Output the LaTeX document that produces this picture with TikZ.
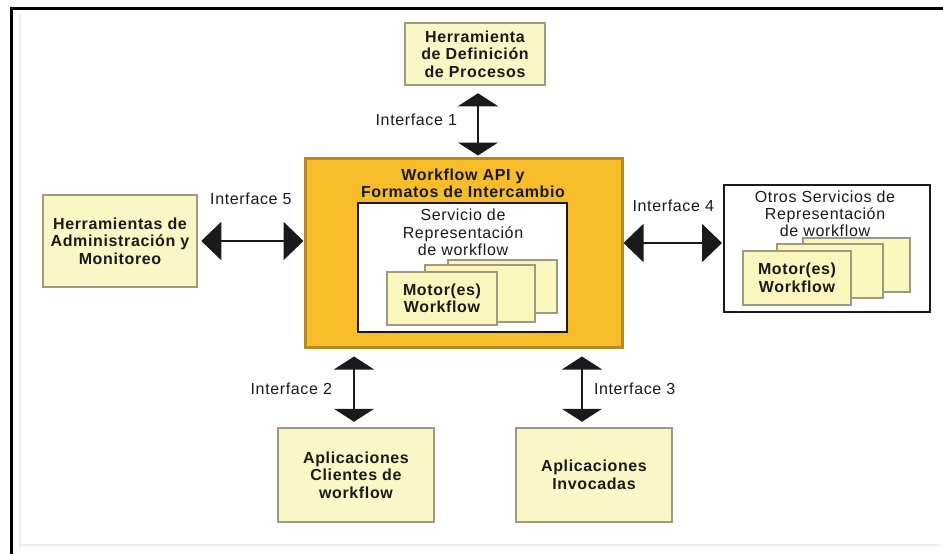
\documentclass[tikz,border=0pt]{standalone}
\usepackage{fontspec}
\setmainfont{Liberation Sans}[LetterSpace=4]
\usetikzlibrary{arrows.meta}

\definecolor{boxfill}{HTML}{FAF7C6}
\definecolor{boxline}{HTML}{9E9A7A}
\definecolor{apifill}{HTML}{F6BC2A}
\definecolor{apiline}{HTML}{B48A22}
\definecolor{cardfill}{HTML}{FAF6BE}
\definecolor{cardline}{HTML}{9E9B7C}
\definecolor{ink}{HTML}{1A1A1A}

\begin{document}
\begin{tikzpicture}[x=1pt,y=-1pt,
  txt/.style={font=\fontsize{16}{17.5}\selectfont, text=ink, align=center},
  btxt/.style={font=\fontsize{16}{17.5}\selectfont\bfseries, text=ink, align=center},
  lbl/.style={txt, inner sep=0pt},
  appbox/.style={btxt, draw=boxline, fill=boxfill, line width=2.5pt, inner sep=0pt},
  apibox/.style={draw=apiline, fill=apifill, line width=3pt, inner sep=0pt},
  svcbox/.style={draw=ink, fill=white, line width=2pt, inner sep=0pt},
  card/.style={btxt, draw=cardline, fill=cardfill, line width=2pt, inner sep=0pt,
               minimum width=110pt, minimum height=54pt},
  vconn/.style={draw=ink, line width=2pt,
    {Triangle[width=40pt,length=13pt]}-{Triangle[width=40pt,length=13pt]}},
  hconn/.style={draw=ink, line width=2pt,
    {Triangle[width=38pt,length=20pt]}-{Triangle[width=38pt,length=20pt]}},
]
\useasboundingbox (0,0) rectangle (943,554);
\fill[white] (0,0) rectangle (943,554);

% page frame
\draw[black!7, line width=2pt] (20,548) -- (20,14);
\draw[black!7, line width=2pt] (20,545) -- (940,545);
\draw[black, line width=3.5pt] (943,8.5) -- (11.5,8.5) -- (11.5,554);

% outer tools
\node[appbox, minimum width=140pt, minimum height=62pt] (top) at (475,54)
  {Herramienta\\de Definición\\de Procesos};
\node[appbox, minimum width=154pt, minimum height=92pt] (adm) at (120,241)
  {Herramientas de\\Administración y\\Monitoreo};
\node[appbox, minimum width=156pt, minimum height=94pt] (cli) at (356,475)
  {Aplicaciones\\Clientes de\\workflow};
\node[appbox, minimum width=156pt, minimum height=94pt] (inv) at (594,475)
  {Aplicaciones\\Invocadas};

% central API block
\node[apibox, minimum width=317pt, minimum height=189pt] (api) at (463.5,252.5) {};
\node[btxt] (apititle) at (463,183.5) {Workflow API y\\Formatos de Intercambio};
\node[svcbox, minimum width=209pt, minimum height=129pt] (svc) at (462.5,267.5) {};
\node[txt] (svctitle) at (463,232.5)
  {Servicio de\\Representación\\de workflow};
\node[card, minimum width=109pt, minimum height=53pt] (svcc3) at (502.5,286.5) {};
\node[card, minimum height=57pt] (svcc2) at (480,293.5) {};
\node[card, minimum height=53pt] (svcc1) at (442,298.5) {Motor(es)\\Workflow};

% other enactment services
\node[svcbox, minimum width=206pt, minimum height=127pt] (oth) at (827,248.5) {};
\node[txt, font=\fontsize{16}{17}\selectfont] (othtitle) at (825,214)
  {Otros Servicios de\\Representación\\de workflow};
\node[card, minimum width=107pt] (othc3) at (856.5,265) {};
\node[card, minimum width=106pt] (othc2) at (830,271) {};
\node[card, minimum width=108pt] (othc1) at (797,278) {Motor(es)\\Workflow};

% interfaces
\draw[vconn, shorten <=7pt, shorten >=1pt]
  ([xshift=3pt]top.south) --
  node[lbl, pos=0.48, left=20pt] {Interface 1}
  ([xshift=3pt]top.south |- api.north);
\draw[hconn, shorten <=3pt]
  (adm.east) --
  node[lbl, pos=0.5, above=35pt] {Interface 5}
  (adm.east -| api.west);
\draw[hconn, shorten >=1pt]
  ([yshift=5.5pt]oth.west -| api.east) --
  node[lbl, pos=0.5, above=30pt] {Interface 4}
  ([yshift=5.5pt]oth.west);
\draw[vconn, shorten <=8pt, shorten >=5pt]
  ([xshift=-2pt]cli.north |- api.south) --
  node[lbl, pos=0.51, left=21pt] {Interface 2}
  ([xshift=-2pt]cli.north);
\draw[vconn, shorten <=8pt, shorten >=5pt]
  ([xshift=-12pt]inv.north |- api.south) --
  node[lbl, pos=0.51, right=11pt] {Interface 3}
  ([xshift=-12pt]inv.north);
\end{tikzpicture}
\end{document}
